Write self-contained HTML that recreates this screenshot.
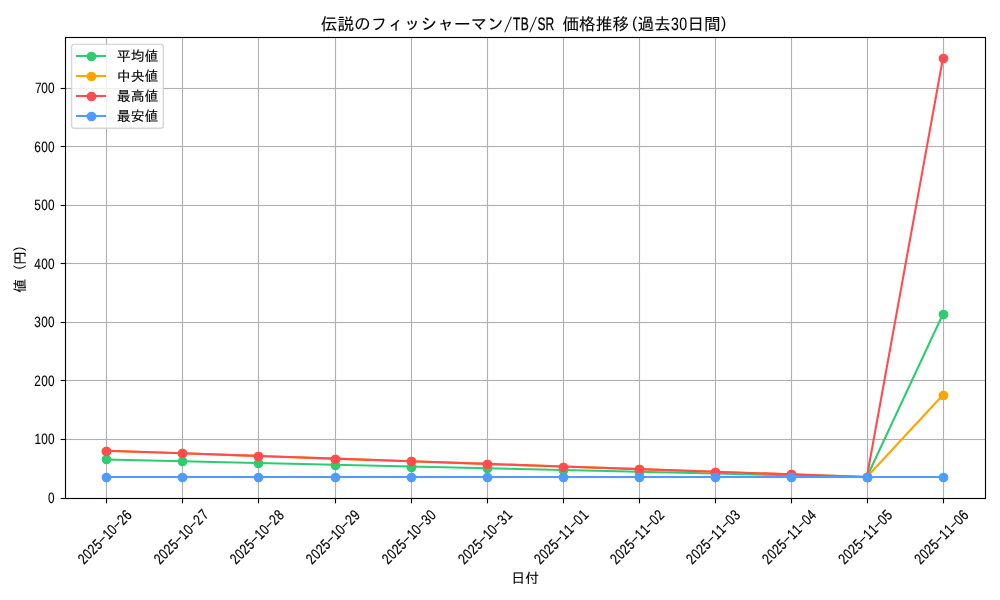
<!DOCTYPE html>
<html lang="ja">
<head>
<meta charset="utf-8">
<title>伝説のフィッシャーマン/TB/SR 価格推移(過去30日間)</title>
<style>
html,body{margin:0;padding:0;background:#ffffff;}
body{width:1000px;height:600px;overflow:hidden;}
svg{display:block;}
text{fill:#000000;stroke:#000000;stroke-width:0.12px;text-rendering:geometricPrecision;white-space:pre;}
.cj{font-family:"Liberation Sans","IPAGothic","IPAゴシック","Noto Sans CJK JP",sans-serif;}
.la{font-family:"Liberation Sans","IPAGothic",sans-serif;stroke-width:0px;}
.t10{font-size:13.89px;}
.t12{font-size:16.67px;}
</style>
</head>
<body>
<svg width="1000" height="600" viewBox="0 0 1000 600">
<rect x="0" y="0" width="1000" height="600" fill="#ffffff"/>
<g stroke="#b0b0b0" stroke-width="1.11" fill="none">
<line x1="106.5" y1="37.5" x2="106.5" y2="498.5"/>
<line x1="182.5" y1="37.5" x2="182.5" y2="498.5"/>
<line x1="258.5" y1="37.5" x2="258.5" y2="498.5"/>
<line x1="335.5" y1="37.5" x2="335.5" y2="498.5"/>
<line x1="411.5" y1="37.5" x2="411.5" y2="498.5"/>
<line x1="487.5" y1="37.5" x2="487.5" y2="498.5"/>
<line x1="563.5" y1="37.5" x2="563.5" y2="498.5"/>
<line x1="639.5" y1="37.5" x2="639.5" y2="498.5"/>
<line x1="715.5" y1="37.5" x2="715.5" y2="498.5"/>
<line x1="791.5" y1="37.5" x2="791.5" y2="498.5"/>
<line x1="867.5" y1="37.5" x2="867.5" y2="498.5"/>
<line x1="943.5" y1="37.5" x2="943.5" y2="498.5"/>
<rect x="65.5" y="497.94" width="920" height="1.11" fill="#b0b0b0" stroke="none"/>
<rect x="65.5" y="438.94" width="920" height="1.11" fill="#b0b0b0" stroke="none"/>
<rect x="65.5" y="379.94" width="920" height="1.11" fill="#b0b0b0" stroke="none"/>
<rect x="65.5" y="321.94" width="920" height="1.11" fill="#b0b0b0" stroke="none"/>
<rect x="65.5" y="262.94" width="920" height="1.11" fill="#b0b0b0" stroke="none"/>
<rect x="65.5" y="204.94" width="920" height="1.11" fill="#b0b0b0" stroke="none"/>
<rect x="65.5" y="145.94" width="920" height="1.11" fill="#b0b0b0" stroke="none"/>
<rect x="65.5" y="87.94" width="920" height="1.11" fill="#b0b0b0" stroke="none"/>
</g>
<g stroke="#000000" stroke-width="1.11" fill="none">
<line x1="106.5" y1="498.5" x2="106.5" y2="503.36"/>
<line x1="182.5" y1="498.5" x2="182.5" y2="503.36"/>
<line x1="258.5" y1="498.5" x2="258.5" y2="503.36"/>
<line x1="335.5" y1="498.5" x2="335.5" y2="503.36"/>
<line x1="411.5" y1="498.5" x2="411.5" y2="503.36"/>
<line x1="487.5" y1="498.5" x2="487.5" y2="503.36"/>
<line x1="563.5" y1="498.5" x2="563.5" y2="503.36"/>
<line x1="639.5" y1="498.5" x2="639.5" y2="503.36"/>
<line x1="715.5" y1="498.5" x2="715.5" y2="503.36"/>
<line x1="791.5" y1="498.5" x2="791.5" y2="503.36"/>
<line x1="867.5" y1="498.5" x2="867.5" y2="503.36"/>
<line x1="943.5" y1="498.5" x2="943.5" y2="503.36"/>
<line x1="65.5" y1="498.5" x2="60.64" y2="498.5"/>
<line x1="65.5" y1="439.5" x2="60.64" y2="439.5"/>
<line x1="65.5" y1="380.5" x2="60.64" y2="380.5"/>
<line x1="65.5" y1="322.5" x2="60.64" y2="322.5"/>
<line x1="65.5" y1="263.5" x2="60.64" y2="263.5"/>
<line x1="65.5" y1="205.5" x2="60.64" y2="205.5"/>
<line x1="65.5" y1="146.5" x2="60.64" y2="146.5"/>
<line x1="65.5" y1="88.5" x2="60.64" y2="88.5"/>
</g>
<g class="t10">
<g transform="translate(105.07,537.34) rotate(-45) translate(0,4.6)"><text class="la" transform="scale(0.85,1.08)" x="-40.63 -32.46 -24.29 -16.1" y="0" style="stroke-width:0.2px">2025</text><text class="la" transform="translate(0,-1.39) scale(1.85,1)" x="-4.19" y="0">-</text><text class="la" transform="scale(0.85,1.08)" x="0.69 8.39" y="0" style="stroke-width:0.2px">10</text><text class="la" transform="translate(0,-1.39) scale(1.85,1)" x="7.07" y="0">-</text><text class="la" transform="scale(0.85,1.08)" x="24.73 32.86" y="0" style="stroke-width:0.2px">26</text></g>
<g transform="translate(181.12,537.34) rotate(-45) translate(0,4.6)"><text class="la" transform="scale(0.85,1.08)" x="-40.63 -32.46 -24.29 -16.1" y="0" style="stroke-width:0.2px">2025</text><text class="la" transform="translate(0,-1.39) scale(1.85,1)" x="-4.19" y="0">-</text><text class="la" transform="scale(0.85,1.08)" x="0.69 8.39" y="0" style="stroke-width:0.2px">10</text><text class="la" transform="translate(0,-1.39) scale(1.85,1)" x="7.07" y="0">-</text><text class="la" transform="scale(0.85,1.08)" x="24.73 33.79" y="0" style="stroke-width:0.2px">27</text></g>
<g transform="translate(257.17,537.34) rotate(-45) translate(0,4.6)"><text class="la" transform="scale(0.85,1.08)" x="-40.63 -32.46 -24.29 -16.1" y="0" style="stroke-width:0.2px">2025</text><text class="la" transform="translate(0,-1.39) scale(1.85,1)" x="-4.19" y="0">-</text><text class="la" transform="scale(0.85,1.08)" x="0.69 8.39" y="0" style="stroke-width:0.2px">10</text><text class="la" transform="translate(0,-1.39) scale(1.85,1)" x="7.07" y="0">-</text><text class="la" transform="scale(0.85,1.08)" x="24.73 32.9" y="0" style="stroke-width:0.2px">28</text></g>
<g transform="translate(333.22,537.34) rotate(-45) translate(0,4.6)"><text class="la" transform="scale(0.85,1.08)" x="-40.63 -32.46 -24.29 -16.1" y="0" style="stroke-width:0.2px">2025</text><text class="la" transform="translate(0,-1.39) scale(1.85,1)" x="-4.19" y="0">-</text><text class="la" transform="scale(0.85,1.08)" x="0.69 8.39" y="0" style="stroke-width:0.2px">10</text><text class="la" transform="translate(0,-1.39) scale(1.85,1)" x="7.07" y="0">-</text><text class="la" transform="scale(0.85,1.08)" x="24.73 32.91" y="0" style="stroke-width:0.2px">29</text></g>
<g transform="translate(409.27,537.34) rotate(-45) translate(0,4.6)"><text class="la" transform="scale(0.85,1.08)" x="-40.63 -32.46 -24.29 -16.1" y="0" style="stroke-width:0.2px">2025</text><text class="la" transform="translate(0,-1.39) scale(1.85,1)" x="-4.19" y="0">-</text><text class="la" transform="scale(0.85,1.08)" x="0.69 8.39" y="0" style="stroke-width:0.2px">10</text><text class="la" transform="translate(0,-1.39) scale(1.85,1)" x="7.07" y="0">-</text><text class="la" transform="scale(0.85,1.08)" x="24.77 32.9" y="0" style="stroke-width:0.2px">30</text></g>
<g transform="translate(485.32,537.34) rotate(-45) translate(0,4.6)"><text class="la" transform="scale(0.85,1.08)" x="-40.63 -32.46 -24.29 -16.1" y="0" style="stroke-width:0.2px">2025</text><text class="la" transform="translate(0,-1.39) scale(1.85,1)" x="-4.19" y="0">-</text><text class="la" transform="scale(0.85,1.08)" x="0.69 8.39" y="0" style="stroke-width:0.2px">10</text><text class="la" transform="translate(0,-1.39) scale(1.85,1)" x="7.07" y="0">-</text><text class="la" transform="scale(0.85,1.08)" x="24.77 33.37" y="0" style="stroke-width:0.2px">31</text></g>
<g transform="translate(561.38,537.34) rotate(-45) translate(0,4.6)"><text class="la" transform="scale(0.85,1.08)" x="-40.63 -32.46 -24.29 -16.1" y="0" style="stroke-width:0.2px">2025</text><text class="la" transform="translate(0,-1.39) scale(1.85,1)" x="-4.19" y="0">-</text><text class="la" transform="scale(0.85,1.08)" x="0.69 8.86" y="0" style="stroke-width:0.2px">11</text><text class="la" transform="translate(0,-1.39) scale(1.85,1)" x="7.07" y="0">-</text><text class="la" transform="scale(0.85,1.08)" x="24.73 33.37" y="0" style="stroke-width:0.2px">01</text></g>
<g transform="translate(637.43,537.34) rotate(-45) translate(0,4.6)"><text class="la" transform="scale(0.85,1.08)" x="-40.63 -32.46 -24.29 -16.1" y="0" style="stroke-width:0.2px">2025</text><text class="la" transform="translate(0,-1.39) scale(1.85,1)" x="-4.19" y="0">-</text><text class="la" transform="scale(0.85,1.08)" x="0.69 8.86" y="0" style="stroke-width:0.2px">11</text><text class="la" transform="translate(0,-1.39) scale(1.85,1)" x="7.07" y="0">-</text><text class="la" transform="scale(0.85,1.08)" x="24.73 32.9" y="0" style="stroke-width:0.2px">02</text></g>
<g transform="translate(713.48,537.34) rotate(-45) translate(0,4.6)"><text class="la" transform="scale(0.85,1.08)" x="-40.63 -32.46 -24.29 -16.1" y="0" style="stroke-width:0.2px">2025</text><text class="la" transform="translate(0,-1.39) scale(1.85,1)" x="-4.19" y="0">-</text><text class="la" transform="scale(0.85,1.08)" x="0.69 8.86" y="0" style="stroke-width:0.2px">11</text><text class="la" transform="translate(0,-1.39) scale(1.85,1)" x="7.07" y="0">-</text><text class="la" transform="scale(0.85,1.08)" x="24.73 32.94" y="0" style="stroke-width:0.2px">03</text></g>
<g transform="translate(789.53,537.34) rotate(-45) translate(0,4.6)"><text class="la" transform="scale(0.85,1.08)" x="-40.63 -32.46 -24.29 -16.1" y="0" style="stroke-width:0.2px">2025</text><text class="la" transform="translate(0,-1.39) scale(1.85,1)" x="-4.19" y="0">-</text><text class="la" transform="scale(0.85,1.08)" x="0.69 8.86" y="0" style="stroke-width:0.2px">11</text><text class="la" transform="translate(0,-1.39) scale(1.85,1)" x="7.07" y="0">-</text><text class="la" transform="scale(0.85,1.08)" x="24.73 32.95" y="0" style="stroke-width:0.2px">04</text></g>
<g transform="translate(865.58,537.34) rotate(-45) translate(0,4.6)"><text class="la" transform="scale(0.85,1.08)" x="-40.63 -32.46 -24.29 -16.1" y="0" style="stroke-width:0.2px">2025</text><text class="la" transform="translate(0,-1.39) scale(1.85,1)" x="-4.19" y="0">-</text><text class="la" transform="scale(0.85,1.08)" x="0.69 8.86" y="0" style="stroke-width:0.2px">11</text><text class="la" transform="translate(0,-1.39) scale(1.85,1)" x="7.07" y="0">-</text><text class="la" transform="scale(0.85,1.08)" x="24.73 32.92" y="0" style="stroke-width:0.2px">05</text></g>
<g transform="translate(941.63,537.34) rotate(-45) translate(0,4.6)"><text class="la" transform="scale(0.85,1.08)" x="-40.63 -32.46 -24.29 -16.1" y="0" style="stroke-width:0.2px">2025</text><text class="la" transform="translate(0,-1.39) scale(1.85,1)" x="-4.19" y="0">-</text><text class="la" transform="scale(0.85,1.08)" x="0.69 8.86" y="0" style="stroke-width:0.2px">11</text><text class="la" transform="translate(0,-1.39) scale(1.85,1)" x="7.07" y="0">-</text><text class="la" transform="scale(0.85,1.08)" x="24.73 32.86" y="0" style="stroke-width:0.2px">06</text></g>
<g transform="translate(54.82,503)"><text class="la" transform="scale(0.85,1.08)" x="-7.95" y="0" style="stroke-width:0.1px">0</text></g>
<g transform="translate(54.82,444.43)"><text class="la" transform="scale(0.85,1.08)" x="-23.82 -16.12 -7.95" y="0" style="stroke-width:0.1px">100</text></g>
<g transform="translate(54.82,385.86)"><text class="la" transform="scale(0.85,1.08)" x="-24.29 -16.12 -7.95" y="0" style="stroke-width:0.1px">200</text></g>
<g transform="translate(54.82,327.29)"><text class="la" transform="scale(0.85,1.08)" x="-24.25 -16.12 -7.95" y="0" style="stroke-width:0.1px">300</text></g>
<g transform="translate(54.82,268.72)"><text class="la" transform="scale(0.85,1.08)" x="-24.24 -16.12 -7.95" y="0" style="stroke-width:0.1px">400</text></g>
<g transform="translate(54.82,210.15)"><text class="la" transform="scale(0.85,1.08)" x="-24.27 -16.12 -7.95" y="0" style="stroke-width:0.1px">500</text></g>
<g transform="translate(54.82,151.58)"><text class="la" transform="scale(0.85,1.08)" x="-24.33 -16.12 -7.95" y="0" style="stroke-width:0.1px">600</text></g>
<g transform="translate(54.82,93)"><text class="la" transform="scale(0.85,1.08)" x="-23.4 -16.12 -7.95" y="0" style="stroke-width:0.1px">700</text></g>
</g>
<g class="t10" transform="translate(525.15,583.4)"><text class="cj" x="-13.89" y="0">日付</text></g>
<g class="t10" transform="translate(19.6,268.54) rotate(-90) translate(0,5.5)"><text class="cj" x="-24.31" y="0">値 </text><text class="la" transform="translate(0,-1.67) scale(0.95,0.96)" x="-1.09" y="0">(</text><text class="cj" x="3.47" y="0">円</text><text class="la" transform="translate(0,-1.67) scale(0.95,0.96)" x="18.4" y="0">)</text></g>
<g fill="#2ecc71" stroke="#2ecc71">
<polyline points="106.37,459.48 182.42,461.24 258.47,462.99 334.52,464.75 410.57,466.51 486.62,468.26 562.68,470.02 638.73,471.78 714.78,473.54 790.83,475.29 866.88,477.05 942.93,314.22" fill="none" stroke-width="2.08" stroke-linejoin="round" stroke-linecap="square"/>
<circle cx="106.5" cy="459.5" r="4.17" stroke-width="1.39"/>
<circle cx="182.5" cy="461.5" r="4.17" stroke-width="1.39"/>
<circle cx="258.5" cy="463.5" r="4.17" stroke-width="1.39"/>
<circle cx="335.5" cy="465.5" r="4.17" stroke-width="1.39"/>
<circle cx="411.5" cy="467.5" r="4.17" stroke-width="1.39"/>
<circle cx="487.5" cy="468.5" r="4.17" stroke-width="1.39"/>
<circle cx="563.5" cy="470.5" r="4.17" stroke-width="1.39"/>
<circle cx="639.5" cy="472.5" r="4.17" stroke-width="1.39"/>
<circle cx="715.5" cy="474.5" r="4.17" stroke-width="1.39"/>
<circle cx="791.5" cy="475.5" r="4.17" stroke-width="1.39"/>
<circle cx="867.5" cy="477.5" r="4.17" stroke-width="1.39"/>
<circle cx="943.5" cy="314.5" r="4.17" stroke-width="1.39"/>
</g>
<g fill="#ffa500" stroke="#ffa500">
<polyline points="106.37,450.69 182.42,453.33 258.47,455.96 334.52,458.6 410.57,461.24 486.62,463.87 562.68,466.51 638.73,469.14 714.78,471.78 790.83,474.41 866.88,477.05 942.93,395.05" fill="none" stroke-width="2.08" stroke-linejoin="round" stroke-linecap="square"/>
<circle cx="106.5" cy="451.5" r="4.17" stroke-width="1.39"/>
<circle cx="182.5" cy="453.5" r="4.17" stroke-width="1.39"/>
<circle cx="258.5" cy="456.5" r="4.17" stroke-width="1.39"/>
<circle cx="335.5" cy="459.5" r="4.17" stroke-width="1.39"/>
<circle cx="411.5" cy="461.5" r="4.17" stroke-width="1.39"/>
<circle cx="487.5" cy="464.5" r="4.17" stroke-width="1.39"/>
<circle cx="563.5" cy="467.5" r="4.17" stroke-width="1.39"/>
<circle cx="639.5" cy="469.5" r="4.17" stroke-width="1.39"/>
<circle cx="715.5" cy="472.5" r="4.17" stroke-width="1.39"/>
<circle cx="791.5" cy="474.5" r="4.17" stroke-width="1.39"/>
<circle cx="867.5" cy="477.5" r="4.17" stroke-width="1.39"/>
<circle cx="943.5" cy="395.5" r="4.17" stroke-width="1.39"/>
</g>
<g fill="#ff4d4f" stroke="#ff4d4f">
<polyline points="106.37,450.69 182.42,453.33 258.47,455.96 334.52,458.6 410.57,461.24 486.62,463.87 562.68,466.51 638.73,469.14 714.78,471.78 790.83,474.41 866.88,477.05 942.93,58.27" fill="none" stroke-width="2.08" stroke-linejoin="round" stroke-linecap="square"/>
<circle cx="106.5" cy="451.5" r="4.17" stroke-width="1.39"/>
<circle cx="182.5" cy="453.5" r="4.17" stroke-width="1.39"/>
<circle cx="258.5" cy="456.5" r="4.17" stroke-width="1.39"/>
<circle cx="335.5" cy="459.5" r="4.17" stroke-width="1.39"/>
<circle cx="411.5" cy="461.5" r="4.17" stroke-width="1.39"/>
<circle cx="487.5" cy="464.5" r="4.17" stroke-width="1.39"/>
<circle cx="563.5" cy="467.5" r="4.17" stroke-width="1.39"/>
<circle cx="639.5" cy="469.5" r="4.17" stroke-width="1.39"/>
<circle cx="715.5" cy="472.5" r="4.17" stroke-width="1.39"/>
<circle cx="791.5" cy="474.5" r="4.17" stroke-width="1.39"/>
<circle cx="867.5" cy="477.5" r="4.17" stroke-width="1.39"/>
<circle cx="943.5" cy="58.5" r="4.17" stroke-width="1.39"/>
</g>
<g fill="#4f9cff" stroke="#4f9cff">
<rect x="104.96" y="475.96" width="839.08" height="2.08" stroke="none"/>
<circle cx="106.5" cy="477.5" r="4.17" stroke-width="1.39"/>
<circle cx="182.5" cy="477.5" r="4.17" stroke-width="1.39"/>
<circle cx="258.5" cy="477.5" r="4.17" stroke-width="1.39"/>
<circle cx="335.5" cy="477.5" r="4.17" stroke-width="1.39"/>
<circle cx="411.5" cy="477.5" r="4.17" stroke-width="1.39"/>
<circle cx="487.5" cy="477.5" r="4.17" stroke-width="1.39"/>
<circle cx="563.5" cy="477.5" r="4.17" stroke-width="1.39"/>
<circle cx="639.5" cy="477.5" r="4.17" stroke-width="1.39"/>
<circle cx="715.5" cy="477.5" r="4.17" stroke-width="1.39"/>
<circle cx="791.5" cy="477.5" r="4.17" stroke-width="1.39"/>
<circle cx="867.5" cy="477.5" r="4.17" stroke-width="1.39"/>
<circle cx="943.5" cy="477.5" r="4.17" stroke-width="1.39"/>
</g>
<rect x="65.5" y="37.5" width="920" height="461" fill="none" stroke="#000000" stroke-width="1.11"/>
<g class="t12" transform="translate(524.95,30.1)"><text class="cj" x="-204.17" y="0">伝説のフィッシャーマン</text><text class="la" transform="translate(0,1.83) skewX(-14.5) scale(0.8,1.27)" x="-26.01" y="0">/</text><text class="la" transform="scale(0.72,1.08)" x="-16.66 -5.8" y="0" style="stroke-width:0.3px">TB</text><text class="la" transform="translate(0,1.83) skewX(-14.5) scale(0.8,1.27)" x="5.24" y="0">/</text><text class="la" transform="scale(0.72,1.08)" x="17.59 28.41 40.51" y="0" style="stroke-width:0.3px">SR </text><text class="cj" x="37.5" y="0">価格推移</text><text class="la" transform="translate(0,-2) scale(0.95,0.96)" x="112.72" y="0">(</text><text class="cj" x="112.5" y="0">過去</text><text class="la" transform="scale(0.85,1.08)" x="171.88 181.64" y="0" style="stroke-width:0.1px">30</text><text class="cj" x="162.5" y="0">日間</text><text class="la" transform="translate(0,-2) scale(0.95,0.96)" x="206.29" y="0">)</text></g>
<rect x="71.6" y="44.35" width="91.75" height="83.85" rx="2.78" ry="2.78" fill="#ffffff" fill-opacity="0.8" stroke="#cccccc" stroke-opacity="0.8" stroke-width="1.39"/>
<g fill="#2ecc71" stroke="#2ecc71"><line x1="77" y1="56" x2="105" y2="56" stroke-width="2.08" stroke-linecap="square"/><circle cx="91.5" cy="56.5" r="4.17" stroke-width="1.39"/></g>
<text class="t10 cj" x="116.83" y="60.9">平均値</text>
<g fill="#ffa500" stroke="#ffa500"><line x1="77" y1="76" x2="105" y2="76" stroke-width="2.08" stroke-linecap="square"/><circle cx="91.5" cy="76.5" r="4.17" stroke-width="1.39"/></g>
<text class="t10 cj" x="116.83" y="80.9">中央値</text>
<g fill="#ff4d4f" stroke="#ff4d4f"><line x1="77" y1="96" x2="105" y2="96" stroke-width="2.08" stroke-linecap="square"/><circle cx="91.5" cy="96.5" r="4.17" stroke-width="1.39"/></g>
<text class="t10 cj" x="116.83" y="100.9">最高値</text>
<g fill="#4f9cff" stroke="#4f9cff"><line x1="77" y1="116" x2="105" y2="116" stroke-width="2.08" stroke-linecap="square"/><circle cx="91.5" cy="116.5" r="4.17" stroke-width="1.39"/></g>
<text class="t10 cj" x="116.83" y="120.9">最安値</text>
</svg>
</body>
</html>
